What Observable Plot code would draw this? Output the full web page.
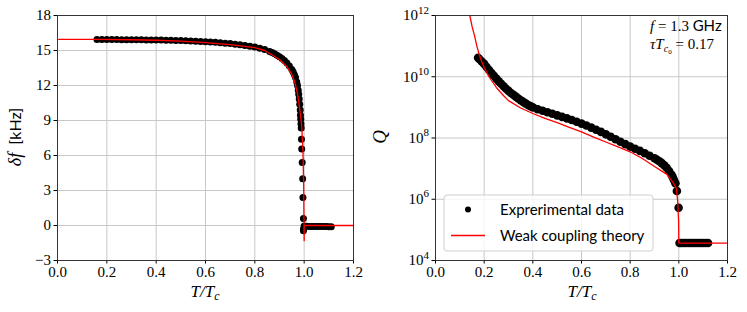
<!DOCTYPE html>
<html><head><meta charset="utf-8">
<script src="https://cdn.jsdelivr.net/npm/d3@7"></script>
<script src="https://cdn.jsdelivr.net/npm/@observablehq/plot@0.6"></script>
<style>
body{margin:0;background:#fff;}
#wrap{position:relative;width:747px;height:312px;overflow:hidden;}
#left{position:absolute;left:0;top:0;}
#right{position:absolute;left:370px;top:0;}
</style></head><body><div id="wrap"><div id="left"></div><div id="right"></div></div>
<script>
// ---------- data ----------
const xTicks = [0, 0.2, 0.4, 0.6, 0.8, 1.0, 1.2];
const dfTicks = [-3, 0, 3, 6, 9, 12, 15, 18];
const qTicks = [1e4, 1e6, 1e8, 1e10, 1e12];

// Left panel: frequency shift (kHz), experimental
const dfExpT = [0.16,0.18,0.20,0.22,0.24,0.26,0.28,0.30,0.32,0.34,0.36,0.38,0.40,0.42,0.44,0.46,0.48,0.50,0.52,0.54,0.56,0.58,0.60,0.62,0.64,0.66,0.68,0.70,0.72,0.74,0.76,0.78,0.80,0.82,0.84,0.86,0.87,0.88,0.89,0.90,0.91,0.92,0.93,0.94,0.95,0.955,0.96,0.965,0.97,0.973,0.976,0.978,0.98,0.982,0.984,0.985,0.986,0.987,0.988,0.989,0.990,0.992,0.994,0.995,0.997,0.997,0.997,1.000,1.01,1.02,1.03,1.04,1.05,1.06,1.07,1.08,1.09,1.10,1.11];
const dfExpV = [15.94,15.94,15.94,15.94,15.94,15.93,15.93,15.93,15.92,15.92,15.91,15.91,15.90,15.89,15.88,15.87,15.86,15.85,15.83,15.82,15.80,15.78,15.76,15.73,15.70,15.67,15.63,15.59,15.54,15.49,15.43,15.36,15.30,15.20,15.08,14.92,14.82,14.72,14.60,14.47,14.32,14.14,13.93,13.68,13.37,13.18,12.95,12.68,12.30,12.00,11.60,11.25,10.85,10.40,9.90,9.45,9.10,8.70,8.35,7.40,6.55,5.40,4.00,2.40,0.60,-0.30,-0.45,-0.04,-0.07,-0.08,-0.08,-0.08,-0.08,-0.09,-0.09,-0.09,-0.09,-0.10,-0.10];
// Left panel: weak coupling theory
const dfThT = [0.005,0.16,0.30,0.40,0.50,0.60,0.70,0.75,0.80,0.84,0.86,0.90,0.93,0.95,0.962,0.973,0.98,0.985,0.99,0.995,0.998,1.0,1.0,1.2];
const dfThV = [15.95,15.95,15.92,15.88,15.80,15.68,15.50,15.38,15.24,15.00,14.74,14.23,13.62,12.95,12.29,11.29,10.29,9.50,8.50,6.50,3.50,-1.30,0,0];

// Right panel: quality factor, log10(Q), experimental
const qExpT = [0.175,0.18,0.19,0.20,0.21,0.22,0.23,0.24,0.25,0.26,0.27,0.28,0.29,0.30,0.31,0.32,0.33,0.34,0.35,0.36,0.37,0.38,0.39,0.40,0.42,0.44,0.46,0.48,0.50,0.52,0.54,0.56,0.58,0.60,0.62,0.64,0.66,0.68,0.70,0.72,0.74,0.76,0.78,0.80,0.82,0.84,0.86,0.88,0.90,0.91,0.92,0.93,0.94,0.95,0.96,0.97,0.975,0.98,0.986,0.992,0.999,1.003,1.01,1.02,1.03,1.04,1.05,1.06,1.07,1.08,1.09,1.10,1.11,1.12];
const qExpLog = [10.62,10.58,10.50,10.42,10.32,10.22,10.12,10.03,9.94,9.85,9.77,9.69,9.61,9.54,9.47,9.41,9.35,9.29,9.23,9.18,9.13,9.08,9.04,9.00,8.94,8.89,8.84,8.79,8.74,8.69,8.64,8.59,8.53,8.47,8.41,8.34,8.27,8.20,8.12,8.04,7.96,7.88,7.80,7.72,7.65,7.58,7.50,7.42,7.34,7.29,7.24,7.18,7.11,7.03,6.92,6.80,6.72,6.63,6.52,6.27,5.72,4.57,4.57,4.57,4.57,4.57,4.57,4.57,4.57,4.57,4.57,4.57,4.57,4.57];
// Right panel: weak coupling theory, log10(Q)
const qThT = [0.141,0.15,0.16,0.17,0.18,0.19,0.20,0.22,0.25,0.28,0.30,0.35,0.40,0.45,0.50,0.55,0.60,0.65,0.70,0.75,0.80,0.85,0.90,0.93,0.95,0.966,0.98,0.99,0.995,0.999,1.0,1.2];
const qThLog = [12.0,11.65,11.35,11.0,10.72,10.5,10.3,10.0,9.65,9.38,9.22,8.98,8.8,8.64,8.5,8.35,8.2,8.03,7.87,7.71,7.55,7.33,7.07,6.92,6.82,6.66,6.5,6.35,5.95,5.3,4.57,4.57];

const labelExp = "Exprerimental data";
const labelTh = "Weak coupling theory";

// ---------- tables ----------
const dfExp = dfExpT.map((t, i) => ({T: t, v: dfExpV[i]}));
const dfTh = dfThT.map((t, i) => ({T: t, v: dfThV[i]}));
const qExp = qExpT.map((t, i) => ({T: t, q: Math.pow(10, qExpLog[i])}));
const qTh = qThT.map((t, i) => ({T: t, q: Math.pow(10, qThLog[i])}));

const SERIF = "'Liberation Serif', 'DejaVu Serif', serif";
const SANS = "Lato, 'DejaVu Sans', sans-serif";
const GRID = "#c8c8c8";

// ---------- left ----------
const left = Plot.plot({
  width: 370, height: 312,
  marginLeft: 57, marginRight: 17, marginTop: 15, marginBottom: 52,
  style: {fontFamily: SERIF, fontSize: "15px", color: "#000", background: "transparent", overflow: "visible"},
  x: {domain: [0, 1.2], ticks: xTicks, tickFormat: d3.format(".1f"), tickSize: 3.5, tickPadding: 2.5, label: null},
  y: {domain: [-3, 18], ticks: dfTicks, tickSize: 3.5, tickPadding: 3, label: null,
      tickFormat: d => d < 0 ? "\u2212" + (-d) : String(d)},
  marks: [
    Plot.ruleX(xTicks, {stroke: GRID, strokeWidth: 1}),
    Plot.ruleY(dfTicks, {stroke: GRID, strokeWidth: 1}),
    Plot.dot(dfExp, {x: "T", y: "v", r: 3.5, fill: "black", stroke: "none"}),
    Plot.line(dfTh, {x: "T", y: "v", stroke: "red", strokeWidth: 1.3}),
    Plot.frame({stroke: "#333"})
  ]
});
document.getElementById("left").appendChild(left);
{
  const s = d3.select(left);
  const yl = s.append("text").attr("transform", "translate(21,137) rotate(-90)")
    .attr("text-anchor", "middle").attr("fill", "#000");
  yl.append("tspan").attr("font-family", SERIF).attr("font-style", "italic").attr("font-size", "18px").text("δf");
  yl.append("tspan").attr("font-family", SANS).attr("font-size", "16px").text("  [kHz]");
  const xl = s.append("text").attr("x", 205).attr("y", 297).attr("text-anchor", "middle")
    .attr("font-family", SERIF).attr("font-style", "italic").attr("font-size", "17px").attr("fill", "#000");
  xl.append("tspan").text("T/T");
  xl.append("tspan").attr("font-size", "12px").attr("dy", "3").text("c");
}

// ---------- right ----------
const right = Plot.plot({
  width: 377, height: 312,
  marginLeft: 65, marginRight: 20, marginTop: 15, marginBottom: 52,
  style: {fontFamily: SERIF, fontSize: "15px", color: "#000", background: "transparent", overflow: "visible"},
  x: {domain: [0, 1.2], ticks: xTicks, tickFormat: d3.format(".1f"), tickSize: 3.5, tickPadding: 2.5, label: null},
  y: {type: "log", domain: [1e4, 1e12], ticks: qTicks, tickSize: 3.5, tickPadding: 3, label: null,
      tickFormat: d => "10^" + Math.round(Math.log10(d))},
  marks: [
    Plot.ruleX(xTicks, {stroke: GRID, strokeWidth: 1}),
    Plot.ruleY(qTicks, {stroke: GRID, strokeWidth: 1}),
    Plot.dot(qExp, {x: "T", y: "q", r: 4.3, fill: "black", stroke: "none"}),
    Plot.line(qTh, {x: "T", y: "q", stroke: "red", strokeWidth: 1.3}),
    Plot.frame({stroke: "#333"})
  ]
});
document.getElementById("right").appendChild(right);
{
  const s = d3.select(right);
  s.selectAll("text").each(function () {
    const t = d3.select(this);
    const txt = t.text();
    if (/^10\^\d+$/.test(txt)) {
      const e = txt.split("^")[1];
      t.text(null);
      t.append("tspan").text("10");
      t.append("tspan").attr("font-size", "11px").attr("dy", "-0.6em").text(e);
    }
  });
  s.append("text").attr("transform", "translate(16,137) rotate(-90)")
    .attr("text-anchor", "middle").attr("font-family", SERIF).attr("font-style", "italic")
    .attr("font-size", "19px").attr("fill", "#000").text("Q");
  const xl = s.append("text").attr("x", 212).attr("y", 297).attr("text-anchor", "middle")
    .attr("font-family", SERIF).attr("font-style", "italic").attr("font-size", "17px").attr("fill", "#000");
  xl.append("tspan").text("T/T");
  xl.append("tspan").attr("font-size", "12px").attr("dy", "3").text("c");

  // annotation
  const a1 = s.append("text").attr("x", 280).attr("y", 31).attr("text-anchor", "start").attr("fill", "#000").attr("font-size", "15px");
  a1.append("tspan").attr("font-family", SERIF).attr("font-style", "italic").text("f");
  a1.append("tspan").attr("font-family", SERIF).text(" = 1.3 ");
  a1.append("tspan").attr("font-family", SANS).text("GHz");
  const a2 = s.append("text").attr("x", 280).attr("y", 49).attr("text-anchor", "start").attr("fill", "#000").attr("font-size", "15px").attr("font-family", SERIF);
  a2.append("tspan").attr("font-style", "italic").text("τT");
  a2.append("tspan").attr("font-style", "italic").attr("font-size", "10px").attr("dy", "3").text("c");
  a2.append("tspan").attr("font-size", "7px").attr("dy", "2").text("0");
  a2.append("tspan").attr("dy", "-5").text(" = 0.17");

  // legend
  const g = s.append("g").attr("text-anchor", "start");
  g.append("rect").attr("x", 74).attr("y", 195).attr("width", 209).attr("height", 56).attr("rx", 3)
    .attr("fill", "white").attr("fill-opacity", 0.8).attr("stroke", "#d0d0d0");
  g.append("circle").attr("cx", 98).attr("cy", 209.5).attr("r", 3).attr("fill", "black");
  g.append("line").attr("x1", 81).attr("x2", 115).attr("y1", 235.5).attr("y2", 235.5).attr("stroke", "red").attr("stroke-width", 1.3);
  g.append("text").attr("x", 130).attr("y", 215).attr("text-anchor", "start").attr("font-family", SANS).attr("font-size", "15px").attr("fill", "#000").text(labelExp);
  g.append("text").attr("x", 130).attr("y", 241).attr("text-anchor", "start").attr("font-family", SANS).attr("font-size", "15px").attr("fill", "#000").text(labelTh);
}
</script>
</body></html>
